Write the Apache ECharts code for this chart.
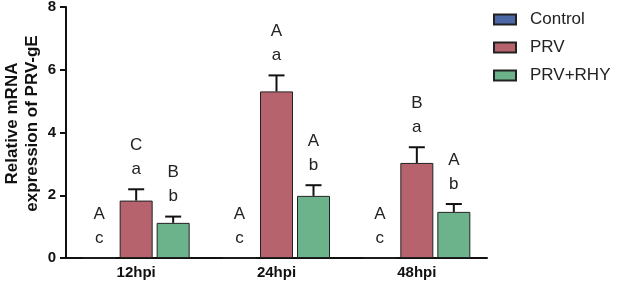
<!DOCTYPE html>
<html>
<head>
<meta charset="utf-8">
<script src="https://cdn.jsdelivr.net/npm/echarts@6/dist/echarts.min.js"></script>
<style>
  html, body { margin: 0; padding: 0; background: #fff; }
  #main { width: 617px; height: 290px; }
</style>
</head>
<body>
<div id="main"></div>
<script>
  // values
  var categories = ['12hpi', '24hpi', '48hpi']
  var seriesNames = ['Control', 'PRV', 'PRV+RHY']
  var controlMean = [0, 0, 0]
  var controlErr = [0, 0, 0]
  var prvMean = [1.83, 5.31, 3.03]
  var prvErr = [0.36, 0.51, 0.50]
  var rhyMean = [1.12, 1.98, 1.47]
  var rhyErr = [0.20, 0.34, 0.25]
  // significance letters (upper row / lower row)
  var controlUpper = ['A', 'A', 'A']
  var controlLower = ['c', 'c', 'c']
  var prvUpper = ['C', 'A', 'B']
  var prvLower = ['a', 'a', 'a']
  var rhyUpper = ['B', 'A', 'A']
  var rhyLower = ['b', 'b', 'b']
  var yTicks = [0, 2, 4, 6, 8]

  var colors = ['#4c68a6', '#b6636d', '#6cb38b']
  var barW = 33, barGapPx = 4
  var fontFam = '"Liberation Sans", Arial, sans-serif'

  var groups = [
    { mean: controlMean, err: controlErr, up: controlUpper, low: controlLower },
    { mean: prvMean, err: prvErr, up: prvUpper, low: prvLower },
    { mean: rhyMean, err: rhyErr, up: rhyUpper, low: rhyLower }
  ]

  var series = []
  seriesNames.forEach(function (name, i) {
    series.push({
      name: name,
      type: 'bar',
      barWidth: barW,
      barGap: (barGapPx / barW * 100) + '%',
      itemStyle: { color: colors[i], borderColor: '#222', borderWidth: 1 },
      data: groups[i].mean,
      z: 2
    })
  })

  // error bars + letters, placed through the category/value axes
  groups.forEach(function (g, i) {
    var offset = (i - 1) * (barW + barGapPx)
    var rows = categories.map(function (c, k) {
      return [k, g.mean[k], g.err[k], g.up[k], g.low[k]]
    })
    series.push({
      type: 'custom',
      z: 5,
      silent: true,
      data: rows,
      encode: { x: 0, y: 1 },
      renderItem: function (params, api) {
        var k = api.value(0)
        var m = api.value(1)
        var e = api.value(2)
        var base = api.coord([k, m])
        var x = base[0] + offset
        var top = api.coord([k, m + e])[1]
        var children = []
        if (e > 0) {
          children.push({ type: 'line', shape: { x1: x, y1: base[1], x2: x, y2: top },
            style: { stroke: '#111', lineWidth: 2 } })
          children.push({ type: 'line', shape: { x1: x - 8, y1: top, x2: x + 8, y2: top },
            style: { stroke: '#111', lineWidth: 2 } })
        }
        children.push({ type: 'text', style: { text: rows[params.dataIndex][4], x: x, y: top - 20,
          align: 'center', verticalAlign: 'middle', fontSize: 17, fontFamily: fontFam, fill: '#222' } })
        children.push({ type: 'text', style: { text: rows[params.dataIndex][3], x: x, y: top - 44,
          align: 'center', verticalAlign: 'middle', fontSize: 17, fontFamily: fontFam, fill: '#222' } })
        return { type: 'group', children: children }
      }
    })
  })

  var option = {
    backgroundColor: '#fff',
    animation: false,
    grid: { left: 66, right: 130, top: 7, bottom: 32, outerBoundsMode: 'none', containLabel: false },
    legend: {
      data: seriesNames,
      orient: 'vertical',
      left: 488,
      top: 6,
      itemWidth: 22,
      itemHeight: 10,
      itemGap: 11,
      icon: 'rect',
      textStyle: { fontSize: 17, color: '#222', fontFamily: fontFam, padding: [0, 0, 0, 9] }
    },
    xAxis: {
      type: 'category',
      data: categories,
      axisLine: { lineStyle: { color: '#111', width: 2 } },
      axisTick: { alignWithLabel: true, length: 6, lineStyle: { color: '#111', width: 2 } },
      axisLabel: { fontSize: 15, fontWeight: 'bold', color: '#111', fontFamily: fontFam, margin: 7 }
    },
    yAxis: {
      type: 'value',
      min: yTicks[0],
      max: yTicks[yTicks.length - 1],
      interval: 2,
      name: 'Relative mRNA\nexpression of PRV-gE',
      nameLocation: 'middle',
      nameGap: 24,
      nameMoveOverlap: false,
      nameTextStyle: { fontSize: 17, fontWeight: 'bold', color: '#111', fontFamily: fontFam, lineHeight: 20,
        padding: [0, 0, 0, 18] },
      splitLine: { show: false },
      axisLine: { show: true, lineStyle: { color: '#111', width: 2 } },
      axisTick: { show: true, length: 6, lineStyle: { color: '#111', width: 2 } },
      axisLabel: { fontSize: 15, fontWeight: 'bold', color: '#111', fontFamily: fontFam, margin: 10 }
    },
    series: series
  }

  var myChart = echarts.init(document.getElementById('main'))
  myChart.setOption(option)
</script>
</body>
</html>
